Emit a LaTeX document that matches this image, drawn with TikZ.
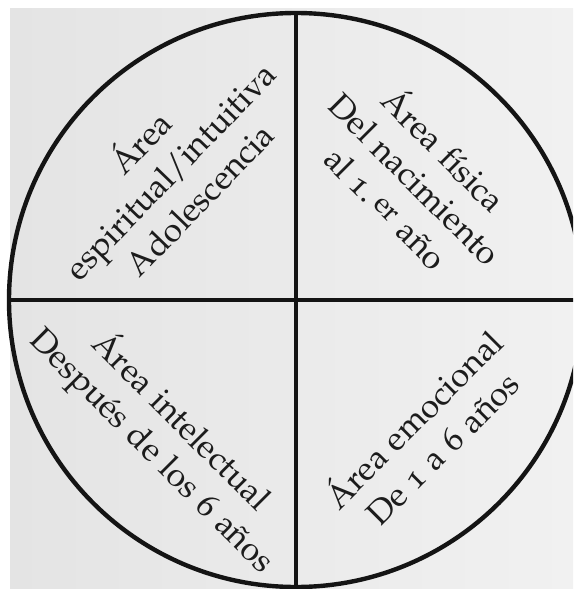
\documentclass[tikz,border=0pt]{standalone}
\usepackage[T1]{fontenc}
\usepackage[osf]{mathpazo}
\definecolor{ink}{RGB}{20,20,20}
\definecolor{txt}{RGB}{28,28,28}
\definecolor{paperL}{RGB}{228,228,228}
\definecolor{paperR}{RGB}{241,241,241}
\tikzset{
  lbl/.style={align=center, text=txt, inner sep=0pt,
    font=\fontsize{33.5}{41}\selectfont},
  rim/.style={draw=ink, line width=4.4pt},
}
\begin{document}
\begin{tikzpicture}[x=1pt,y=-1pt]
\useasboundingbox (0,0) rectangle (573,589);
\clip (0,0) rectangle (573,589);
\fill[white] (0,0) rectangle (573,589);
\shade[left color=paperL, right color=paperR] (10,8) rectangle (573,589);
\coordinate (c) at (296,300);
\coordinate (top) at (296,13);
\coordinate (bot) at (296,587);
\coordinate (lft) at (9,300);
\coordinate (rgt) at (575,300);
\draw[rim] (c) circle[radius=287pt];
\draw[rim] (top) -- (bot);
\draw[rim] (lft) -- (rgt);
\node[lbl, rotate=46] (tl) at (168,169) {\'Area\\espiritual/intuitiva\\Adolescencia};
\node[lbl, rotate=-45] (tr) at (417,177) {\'Area f\'{\i}sica\\Del nacimiento\\al 1.\,\raisebox{.25ex}{\fontsize{29}{29}\selectfont er} a\~no};
\node[lbl, rotate=-45] (bl) at (167,436) {\'Area intelectual\\Despu\'es de los 6 a\~nos};
\node[lbl, rotate=45] (br) at (426,432) {\'Area emocional\\De 1 a 6 a\~nos};
\end{tikzpicture}
\end{document}
